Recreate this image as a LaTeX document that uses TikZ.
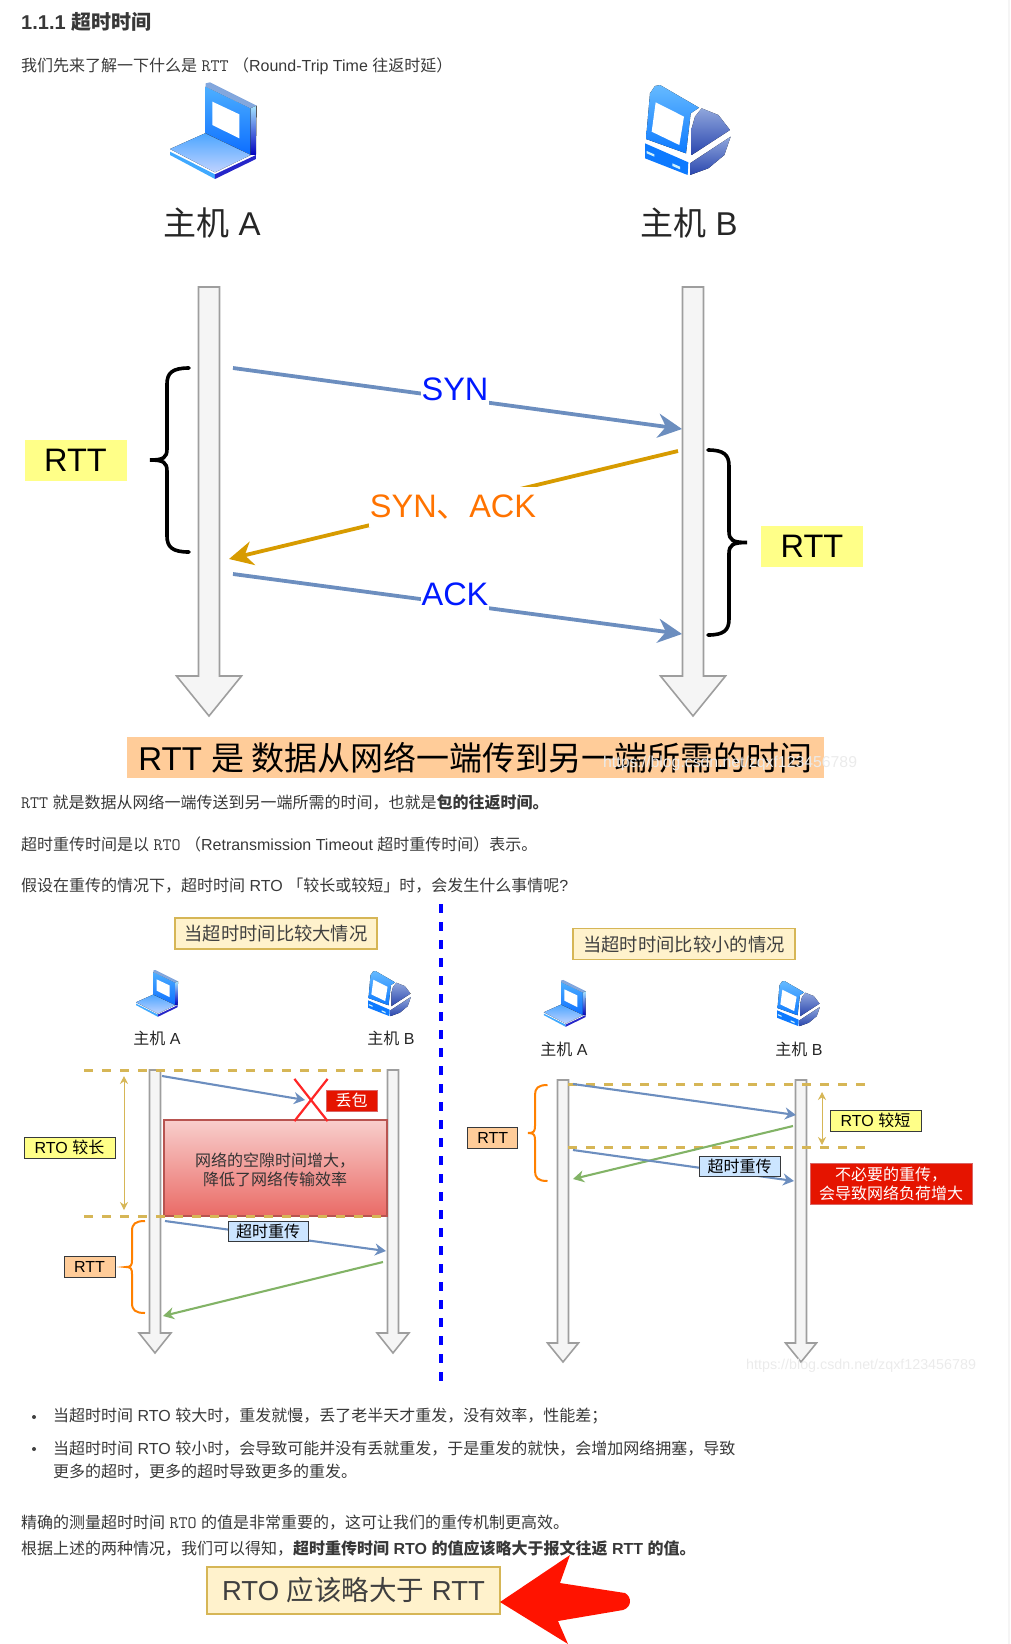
\documentclass[tikz,border=0pt]{standalone}
\usepackage{fontspec}
\setmainfont{Liberation Sans}
\newfontfamily\cjk{Noto Sans CJK SC}
\newcommand{\zh}[1]{{\cjk #1}}
\newcommand{\px}[1]{\fontsize{#1}{#1}\selectfont}
\newcommand{\codetxt}[1]{{\ttfamily\px{17.5}#1}}
% style, end x, bar x, tip x, top y, bottom y, corner
\newcommand{\figbrace}[7]{%
  \draw[#1] (#2,#5) .. controls ({#3+(#2-#3)*.25},#5) and (#3,#5+#7*.3) .. (#3,#5+#7)
    -- (#3,{(#5+#6)/2-#7*.7}) .. controls (#3,{(#5+#6)/2-#7*.15}) and ({#3+(#4-#3)*.2},{(#5+#6)/2}) .. (#4,{(#5+#6)/2})
    .. controls ({#3+(#4-#3)*.2},{(#5+#6)/2}) and (#3,{(#5+#6)/2+#7*.15}) .. (#3,{(#5+#6)/2+#7*.7})
    -- (#3,#6-#7) .. controls (#3,#6-#7*.3) and ({#3+(#2-#3)*.25},#6) .. (#2,#6);}
\usetikzlibrary{arrows.meta,shapes.misc}
\definecolor{msgblue}{HTML}{6C8EBF}
\definecolor{msggreen}{HTML}{82B366}
\definecolor{msgamber}{HTML}{D79B00}
\definecolor{rulegold}{HTML}{D6B656}
\definecolor{notefill}{HTML}{FFF2CC}
\definecolor{edgedark}{HTML}{36393D}
\definecolor{alarmred}{HTML}{E51400}
\definecolor{paleyellow}{HTML}{FFFF88}
\definecolor{paleorange}{HTML}{FFCC99}
\definecolor{paleblue}{HTML}{CCE5FF}
\tikzset{
  figbody/.style={anchor=west, inner sep=0pt, text=black!78, font=\px{16}},
  figbox/.style={draw=edgedark, line width=0.8pt, inner sep=0pt, align=center, font=\px{16}},
  rttbig/.style={fill=paleyellow, inner sep=0pt, minimum width=102pt, minimum height=41pt, font=\px{32.5}},
  rttsmall/.style={figbox, fill=paleorange, minimum width=51pt, minimum height=21pt},
  rtobox/.style={figbox, fill=paleyellow, minimum width=91pt, minimum height=21pt},
  retxbox/.style={figbox, fill=paleblue, minimum width=80pt, minimum height=20pt},
  titlebox/.style={draw=rulegold, line width=1.2pt, fill=notefill, inner sep=0pt, minimum height=31pt, text=black!75, font=\px{18.3}},
  redbox/.style={draw=red!75!black!60, fill=alarmred, text=white, inner sep=0pt, align=center, font=\px{16}},
  biglabel/.style={fill=white, inner sep=1pt, minimum height=40pt, font=\px{32.5}},
  hostbig/.style={inner sep=0pt, font=\px{33}, text=black!85},
  hostsmall/.style={inner sep=0pt, font=\px{16}, text=black!85},
  bigarrow/.style={-{Stealth[length=24pt,width=24pt]}, line width=3.8pt},
  smallarrow/.style={-{Stealth[length=11pt,width=12pt]}, line width=2.1pt},
  rtoarrow/.style={{Stealth[length=8pt,width=8pt]}-{Stealth[length=8pt,width=8pt]}, rulegold, line width=1pt},
  lifeline/.style={draw=black!38, line width=1.6pt, fill=black!4},
  golddash/.style={rulegold, line width=3pt, dash pattern=on 9pt off 9pt},
  bigbrace/.style={line width=3.6pt, line cap=round},
  orangebrace/.style={draw=orange, line width=2pt},
  watermark/.style={anchor=west, inner sep=0pt, text=black!8},
  laptop/.pic={
    \fill[top color=blue!45!cyan!70, bottom color=blue!60!cyan!95] (137,35) -- (272,100) -- (272,240) -- (137,175) -- cycle;
    \fill[white] (157,80) -- (238,118) -- (238,190) -- (157,150) -- cycle;
    \fill[cyan!50!blue!50] (137,25) -- (150,22) -- (290,92) -- (272,100) -- (137,35) -- cycle;
    \fill[top color=blue!30!cyan!35, bottom color=blue!75!black] (272,100) -- (290,92) -- (288,240) -- (272,240) -- cycle;
    \fill[top color=cyan!50!blue!70, bottom color=cyan!30!blue!25] (30,222) -- (135,175) -- (272,240) -- (165,292) -- cycle;
    \fill[blue!45!cyan!75] (30,230) -- (165,298) -- (165,312) -- (30,240) -- cycle;
    \fill[blue!75!black!85] (165,298) -- (288,240) -- (288,252) -- (165,312) -- cycle;
  },
  desktop/.pic={
    \fill[top color=cyan!55!blue!60, bottom color=blue!55!cyan!95] (45,55) -- (60,33) -- (75,30) -- (192,98) -- (167,115) -- (153,235) -- (33,192) -- cycle;
    \fill[white] (62,82) -- (147,125) -- (133,210) -- (50,170) -- cycle;
    \fill[blue!55!cyan!95] (30,205) -- (160,262) -- (158,300) -- (30,250) -- cycle;
    \fill[white!80!cyan] (35,228) -- (58,238) -- (58,245) -- (35,235) -- cycle;
    \fill[white!80!cyan] (112,265) -- (135,275) -- (135,283) -- (112,273) -- cycle;
    \definecolor{domelight}{HTML}{8FA6DC}
    \definecolor{domedark}{HTML}{2A46AE}
    \fill[top color=domelight, bottom color=domedark] (180,125) -- (200,100) -- (250,120) -- (285,165) -- (170,240) -- (170,160) -- cycle;
    \fill[top color=domelight, bottom color=domedark] (287,185) -- (268,240) -- (220,280) -- (165,300) -- (165,265) -- cycle;
  },
}

\begin{document}
\begin{tikzpicture}[x=1pt,y=-1pt]
  \useasboundingbox (0,0) rectangle (1010,1644);
  \fill[black!4] (1008,0) rectangle (1010,1644);
  % text on top
  \node[figbody, font=\px{20}\bfseries] (head) at (21,22) {1.1.1 \zh{超时时间}};
  \node[figbody] (intro) at (21,66) {\zh{我们先来了解一下什么是} \codetxt{RTT} \zh{（}Round-Trip Time \zh{往返时延）}};

  % RTT picture
  \pic[scale=0.3333] at (160,75) {laptop};
  \pic[scale=0.3333] at (635,75) {desktop};
  \node[hostbig] (hosta) at (212,223) {\zh{主机} A};
  \node[hostbig] (hostb) at (689,223) {\zh{主机} B};
  \foreach \cx/\ly/\neck/\tip/\hw/\sw in {209/287/676/716/32.5/10.5, 693/287/676/716/32.5/10.5, 155/1070/1333/1353/16/5.5, 393/1070/1333/1353/16/5.5, 563/1080/1343/1362/15.5/5.5, 801/1080/1343/1362/15.5/5.5}
    \draw[lifeline] (\cx-\sw,\ly) -- (\cx+\sw,\ly) -- (\cx+\sw,\neck) -- (\cx+\hw,\neck) -- (\cx,\tip) -- (\cx-\hw,\neck) -- (\cx-\sw,\neck) -- cycle;
  \coordinate (syna) at (233,368);
  \coordinate (synb) at (682,429);
  \coordinate (sackb) at (678,451);
  \coordinate (sacka) at (229,559);
  \coordinate (acka) at (233,574);
  \coordinate (ackb) at (682,634);
  \draw[bigarrow, msgblue] (syna) -- (synb);
  \draw[bigarrow, msgamber] (sackb) -- (sacka);
  \draw[bigarrow, msgblue] (acka) -- (ackb);
  \node[biglabel, text=blue!90!cyan] (synlabel) at (455,389) {SYN};
  \node[biglabel, text=orange!90!red] (sacklabel) at (453,507) {SYN\zh{、}ACK};
  \node[biglabel, text=blue!90!cyan] (acklabel) at (455,594) {ACK};
  \figbrace{bigbrace}{189}{167}{150}{368}{552}{16}
  \figbrace{bigbrace}{708}{729}{747}{450}{635}{16}
  \node[rttbig] (rtta) at (75.5,460.5) {RTT};
  \node[rttbig] (rttb) at (812,546.5) {RTT};
  \node[fill=paleorange, inner sep=0pt, minimum width=697pt, minimum height=41pt, font=\px{33}] (banner) at (475.5,757.5) {RTT \zh{是 数据从网络一端传到另一端所需的时间}};
  \node[watermark, font=\px{15.8}] (mark1) at (603,763) {https://blog.csdn.net/zqxf123456789};

  % middle text
  \node[figbody] (par1) at (21,802) {\codetxt{RTT} \zh{就是数据从网络一端传送到另一端所需的时间，也就是}\zh{\bfseries 包的往返时间。}};
  \node[figbody] (par2) at (21,844) {\zh{超时重传时间是以} \codetxt{RTO} \zh{（}Retransmission Timeout \zh{超时重传时间）表示。}};
  \node[figbody] (par3) at (21,886) {\zh{假设在重传的情况下，超时时间} RTO \zh{「较长或较短」时，会发生什么事情呢}?};

  \coordinate (sepa) at (441,904);
  \coordinate (sepb) at (441,1382);
  \draw[blue, line width=3.2pt, dash pattern=on 9pt off 9pt] (sepa) -- (sepb);

  % left case
  \node[titlebox, minimum width=202pt] (titlelong) at (276,933.5) {\zh{当超时时间比较大情况}};
  \pic[scale=0.1615] at (131.2,966.4) {laptop};
  \pic[scale=0.167] at (363,966) {desktop};
  \node[hostsmall] (longa) at (157,1038) {\zh{主机} A};
  \node[hostsmall] (longb) at (391,1038) {\zh{主机} B};
  \definecolor{gaptop}{HTML}{F8CECC}
  \definecolor{gapbot}{HTML}{EA6B66}
  \definecolor{gapedge}{HTML}{B85450}
  \node[top color=gaptop, bottom color=gapbot, draw=gapedge, line width=1.2pt, inner sep=0pt, minimum width=223pt, minimum height=96pt] (gap) at (275.5,1168) {};
  \node[inner sep=0pt, align=center, font=\px{16}, text=black!80] (gaptext) at (275,1170) {\zh{网络的空隙时间增大，}\\[3pt]\zh{降低了网络传输效率}};
  \coordinate (dla) at (84,1070);
  \coordinate (dlb) at (385,1070);
  \coordinate (dlc) at (84,1216);
  \coordinate (dld) at (387,1216);
  \draw[golddash] (dla) -- (dlb);
  \draw[golddash] (dlc) -- (dld);
  \node[cross out, draw=red!85, line width=2.2pt, inner sep=0pt, minimum width=31pt, minimum height=40pt] (drop) at (311,1100) {};
  \node[redbox, minimum width=51pt, minimum height=21pt] (lost) at (351.5,1100.5) {\zh{丢包}};
  \coordinate (s1a) at (162,1076);
  \coordinate (s1b) at (305,1100);
  \draw[smallarrow, msgblue] (s1a) -- (s1b);
  \coordinate (rla) at (124,1076);
  \coordinate (rlb) at (124,1210);
  \draw[rtoarrow] (rla) -- (rlb);
  \node[rtobox] (rtolong) at (69.5,1147.5) {RTO \zh{较长}};
  \coordinate (s2a) at (165,1221);
  \coordinate (s2b) at (386,1251);
  \coordinate (s3b) at (383,1262);
  \coordinate (s3a) at (163,1316);
  \draw[smallarrow, msgblue] (s2a) -- (s2b);
  \draw[smallarrow, msggreen] (s3b) -- (s3a);
  \node[retxbox] (retxlong) at (268,1231) {\zh{超时重传}};
  \figbrace{orangebrace}{145}{132}{126}{1221}{1313}{10}
  \node[rttsmall] (rttlong) at (89.5,1266.5) {RTT};

  % right case
  \node[titlebox, minimum width=222pt] (titleshort) at (684,944) {\zh{当超时时间比较小的情况}};
  \pic[scale=0.1615] at (539,976.4) {laptop};
  \pic[scale=0.167] at (772,976) {desktop};
  \node[hostsmall] (shorta) at (564,1049) {\zh{主机} A};
  \node[hostsmall] (shortb) at (799,1049) {\zh{主机} B};
  \coordinate (dsa) at (568,1084);
  \coordinate (dsb) at (868,1084);
  \coordinate (dsc) at (568,1147);
  \coordinate (dsd) at (868,1147);
  \draw[golddash] (dsa) -- (dsb);
  \draw[golddash] (dsc) -- (dsd);
  \coordinate (t1a) at (573,1084);
  \coordinate (t1b) at (796,1115);
  \coordinate (t2b) at (793,1126);
  \coordinate (t2a) at (573,1179);
  \coordinate (t3a) at (573,1150);
  \coordinate (t3b) at (794,1181);
  \draw[smallarrow, msgblue] (t1a) -- (t1b);
  \draw[smallarrow, msggreen] (t2b) -- (t2a);
  \draw[smallarrow, msgblue] (t3a) -- (t3b);
  \node[retxbox, minimum width=81pt] (retxshort) at (739.5,1166) {\zh{超时重传}};
  \coordinate (rsa) at (822,1092);
  \coordinate (rsb) at (822,1145);
  \draw[rtoarrow] (rsa) -- (rsb);
  \node[rtobox] (rtoshort) at (875.5,1120.5) {RTO \zh{较短}};
  \node[redbox, minimum width=162pt, minimum height=41pt] (waste) at (891,1184) {\zh{不必要的重传，}\\[3pt]\zh{会导致网络负荷增大}};
  \figbrace{orangebrace}{547.5}{535}{528}{1085}{1181}{10}
  \node[rttsmall, minimum width=50pt] (rttshort) at (492.75,1137.5) {RTT};
  \node[watermark, font=\px{14.3}] (mark2) at (746,1366) {https://blog.csdn.net/zqxf123456789};

  % bottom text
  \node[circle, fill=black!75, inner sep=0pt, minimum size=4pt] (dot1) at (34,1417) {};
  \node[circle, fill=black!75, inner sep=0pt, minimum size=4pt] (dot2) at (34,1449) {};
  \node[figbody] (item1) at (53,1416) {\zh{当超时时间} RTO \zh{较大时，重发就慢，丢了老半天才重发，没有效率，性能差；}};
  \node[figbody] (item2) at (53,1449) {\zh{当超时时间} RTO \zh{较小时，会导致可能并没有丢就重发，于是重发的就快，会增加网络拥塞，导致}};
  \node[figbody] (item3) at (53,1472) {\zh{更多的超时，更多的超时导致更多的重发。}};
  \node[figbody] (par4) at (21,1523) {\zh{精确的测量超时时间} \codetxt{RTO} \zh{的值是非常重要的，这可让我们的重传机制更高效。}};
  \node[figbody] (par5) at (21,1548) {\zh{根据上述的两种情况，我们可以得知，}\bfseries\zh{超时重传时间} RTO \zh{的值应该略大于报文往返} RTT \zh{的值。}};
  \node[draw=rulegold, line width=1.5pt, fill=notefill, inner sep=0pt, minimum width=293pt, minimum height=47pt, text=black!75, font=\px{27.5}] (final) at (353.5,1590.5) {RTO \zh{应该略大于} RTT};
  \fill[red!85!orange] (500,1602) -- (570,1555) -- (560,1583) -- (625,1593) .. controls (632,1597) and (632,1607) .. (623,1610) -- (558,1621) -- (568,1644) -- cycle;
\end{tikzpicture}
\end{document}
